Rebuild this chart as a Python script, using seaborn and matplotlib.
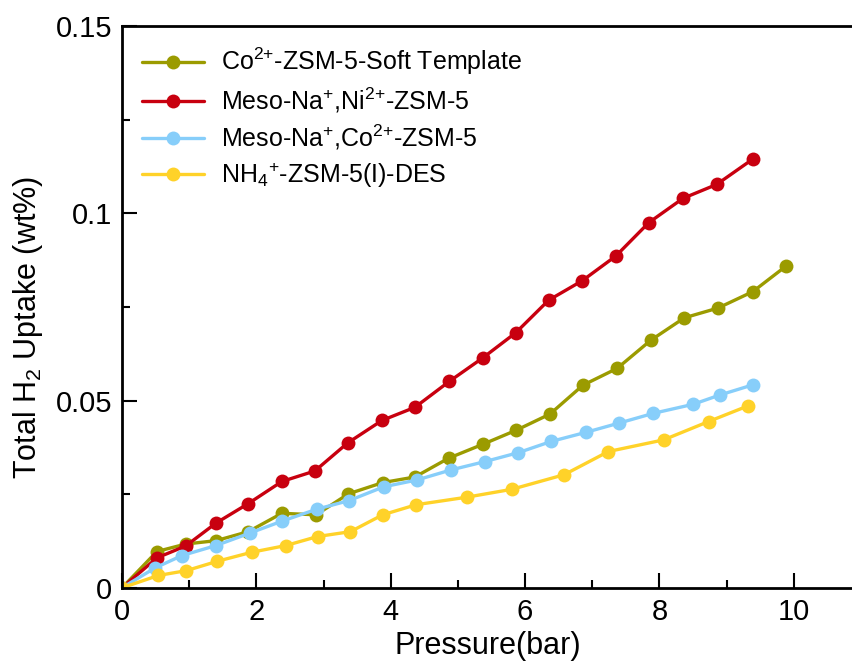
import matplotlib
matplotlib.use("Agg")
import matplotlib.pyplot as plt
import seaborn as sns
import pandas as pd
from matplotlib.ticker import MultipleLocator, FuncFormatter

sns.set_theme(style="white")
plt.rcParams['font.family'] = ['Liberation Sans', 'DejaVu Sans']
plt.rcParams['mathtext.fontset'] = 'custom'
plt.rcParams['mathtext.rm'] = 'Liberation Sans'
plt.rcParams['mathtext.it'] = 'Liberation Sans:italic'
plt.rcParams['mathtext.bf'] = 'Liberation Sans:bold'
plt.rcParams['text.color'] = 'black'
plt.rcParams['axes.labelcolor'] = 'black'

labels = [
    "Co$^{2{+}}$-ZSM-5-Soft Template",
    "Meso-Na$^{{+}}$,Ni$^{2{+}}$-ZSM-5",
    "Meso-Na$^{{+}}$,Co$^{2{+}}$-ZSM-5",
    "NH$_4$$^{{+}}$-ZSM-5(I)-DES",
]
colors = ["#9B9B00", "#C8000F", "#87CEFA", "#FFD229"]

olive_x = [0, 0.52, 0.95, 1.40, 1.88, 2.38, 2.89, 3.37, 3.88, 4.36, 4.86, 5.38, 5.87, 6.37, 6.86, 7.37, 7.87, 8.37, 8.87, 9.39, 9.89]
olive_y = [0, 0.0097, 0.0117, 0.0126, 0.0150, 0.0199, 0.0195, 0.0251, 0.0281, 0.0296, 0.0346, 0.0384, 0.0421, 0.0464, 0.0541, 0.0586, 0.0661, 0.0721, 0.0747, 0.0791, 0.0860]

red_x = [0, 0.52, 0.95, 1.40, 1.88, 2.38, 2.87, 3.36, 3.87, 4.36, 4.87, 5.37, 5.86, 6.35, 6.85, 7.35, 7.84, 8.35, 8.85, 9.39]
red_y = [0, 0.0080, 0.0112, 0.0173, 0.0225, 0.0284, 0.0312, 0.0387, 0.0447, 0.0482, 0.0551, 0.0614, 0.0681, 0.0768, 0.0820, 0.0886, 0.0975, 0.1040, 0.1077, 0.1145]

blue_x = [0, 0.49, 0.89, 1.40, 1.90, 2.38, 2.90, 3.38, 3.90, 4.39, 4.90, 5.40, 5.90, 6.39, 6.90, 7.40, 7.91, 8.50, 8.90, 9.39]
blue_y = [0, 0.0053, 0.0086, 0.0113, 0.0146, 0.0178, 0.0210, 0.0233, 0.0270, 0.0288, 0.0315, 0.0337, 0.0361, 0.0391, 0.0415, 0.0440, 0.0466, 0.0490, 0.0515, 0.0542]

yellow_x = [0, 0.54, 0.96, 1.42, 1.93, 2.44, 2.91, 3.40, 3.88, 4.38, 5.13, 5.80, 6.58, 7.24, 8.06, 8.73, 9.32]
yellow_y = [0, 0.0033, 0.0046, 0.0071, 0.0095, 0.0113, 0.0137, 0.0150, 0.0195, 0.0222, 0.0242, 0.0263, 0.0302, 0.0364, 0.0395, 0.0444, 0.0486]

series = [(olive_x, olive_y), (red_x, red_y), (blue_x, blue_y), (yellow_x, yellow_y)]

fig = plt.figure(figsize=(8.53, 6.68), dpi=100)
ax = fig.add_axes([0.143, 0.120, 0.857, 0.841])

for (xs, ys), lab, col in zip(series, labels, colors):
    df = pd.DataFrame({"x": xs, "y": ys})
    sns.lineplot(data=df, x="x", y="y", ax=ax, color=col, label=lab,
                 marker="o", markersize=10, markeredgewidth=0, linewidth=2.4,
                 estimator=None, sort=False)

ax.set_xlim(0, 10.88)
ax.set_ylim(0, 0.15)
ax.xaxis.set_major_locator(MultipleLocator(2))
ax.xaxis.set_minor_locator(MultipleLocator(1))
ax.yaxis.set_major_locator(MultipleLocator(0.05))
ax.yaxis.set_minor_locator(MultipleLocator(0.025))
ax.yaxis.set_major_formatter(FuncFormatter(lambda v, p: "%g" % round(v, 4)))
ax.xaxis.set_major_formatter(FuncFormatter(lambda v, p: "%g" % round(v, 4)))

ax.tick_params(which="major", direction="in", length=11, width=1.5, labelsize=21,
               colors="black", labelcolor="black", pad=7)
ax.tick_params(which="minor", direction="in", length=6, width=1.5, colors="black")
ax.tick_params(axis="y", which="both", left=True)
ax.tick_params(axis="x", which="both", bottom=True)

for s in ["left", "bottom", "top"]:
    ax.spines[s].set_visible(True)
    ax.spines[s].set_linewidth(2)
    ax.spines[s].set_color("black")
ax.spines["right"].set_visible(False)

ax.set_xlabel("Pressure(bar)", fontsize=22, labelpad=4, color="black")
ax.set_ylabel("Total H$_2$ Uptake (wt%)", fontsize=22, color="black")
ax.yaxis.set_label_coords(-0.105, 0.4626)

leg = ax.legend(loc="upper left", frameon=False, fontsize=18, handlelength=2.5,
                labelspacing=0.32, bbox_to_anchor=(0.0, 1.0), borderaxespad=0.45,
                borderpad=0.35, handletextpad=0.68)
for t in leg.get_texts():
    t.set_color("black")

fig.savefig("out.png", dpi=100)
